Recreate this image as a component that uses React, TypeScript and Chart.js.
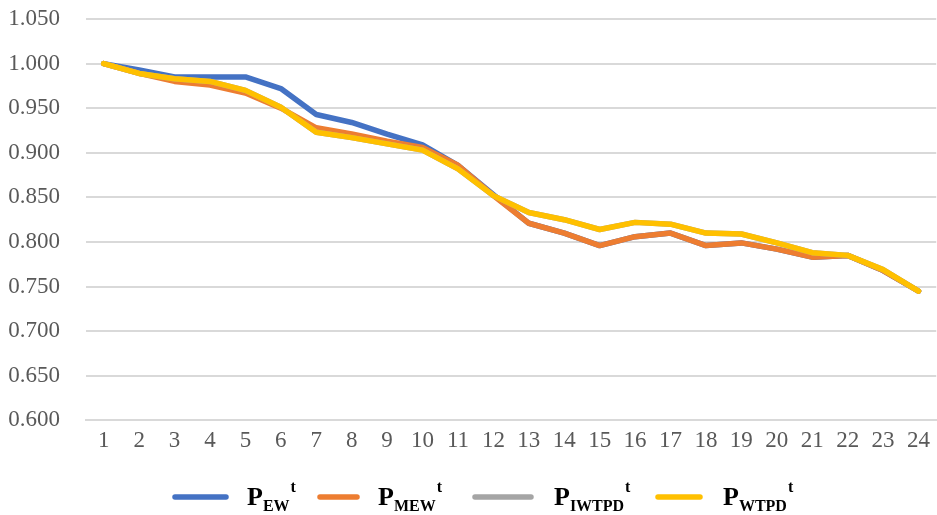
import React, { useEffect, useRef } from "react";
import { Chart, registerables } from "chart.js";

Chart.register(...registerables);

const categories = ["1","2","3","4","5","6","7","8","9","10","11","12","13","14","15","16","17","18","19","20","21","22","23","24"];

const pEW = [1.000,0.993,0.985,0.985,0.985,0.972,0.943,0.934,0.921,0.909,0.886,0.853,0.821,0.810,0.796,0.806,0.810,0.796,0.799,0.792,0.783,0.785,0.768,0.745];
const pMEW = [1.000,0.989,0.980,0.976,0.967,0.950,0.928,0.921,0.913,0.906,0.886,0.852,0.821,0.810,0.796,0.806,0.810,0.796,0.799,0.792,0.783,0.785,0.768,0.745];
const pIWTPD = [1.000,0.989,0.983,0.980,0.970,0.951,0.923,0.917,0.910,0.903,0.882,0.852,0.833,0.825,0.814,0.822,0.820,0.810,0.809,0.799,0.788,0.785,0.769,0.745];
const pWTPD = [1.000,0.989,0.983,0.980,0.970,0.951,0.923,0.917,0.910,0.903,0.882,0.852,0.833,0.825,0.814,0.822,0.820,0.810,0.809,0.799,0.788,0.785,0.769,0.745];

const yMin = 0.6;
const yMax = 1.05;
const yStep = 0.05;

const legendItems = [
  { main: "P", sub: "EW", sup: "t", color: "#4472C4", x0: 175, x1: 226, tx: 247 },
  { main: "P", sub: "MEW", sup: "t", color: "#ED7D31", x0: 320, x1: 357, tx: 378 },
  { main: "P", sub: "IWTPD", sup: "t", color: "#A5A5A5", x0: 475, x1: 531, tx: 554 },
  { main: "P", sub: "WTPD", sup: "t", color: "#FFC000", x0: 658, x1: 700, tx: 723 },
];

const legendPlugin = {
  id: "customLegend",
  afterDraw(chart: any) {
    const ctx = chart.ctx;
    ctx.save();
    const ly = 497;
    for (const it of legendItems) {
      ctx.strokeStyle = it.color;
      ctx.lineWidth = 5.5;
      ctx.lineCap = "round";
      ctx.beginPath();
      ctx.moveTo(it.x0, ly);
      ctx.lineTo(it.x1, ly);
      ctx.stroke();
      ctx.fillStyle = "#000000";
      ctx.textBaseline = "alphabetic";
      ctx.textAlign = "left";
      ctx.font = 'bold 26px "Liberation Serif", serif';
      ctx.fillText(it.main, it.tx, 505);
      const wMain = ctx.measureText(it.main).width;
      ctx.font = 'bold 16px "Liberation Serif", serif';
      ctx.fillText(it.sub, it.tx + wMain, 511);
      const wSub = ctx.measureText(it.sub).width;
      ctx.fillText(it.sup, it.tx + wMain + wSub + 1, 492);
    }
    ctx.restore();
  },
};

export default function App() {
  const ref = useRef<HTMLCanvasElement | null>(null);
  useEffect(() => {
    if (!ref.current) return;
    const mk = (label: string, data: number[], color: string) => ({
      label,
      data,
      borderColor: color,
      backgroundColor: color,
      borderWidth: 5.5,
      borderCapStyle: "round" as const,
      borderJoinStyle: "round" as const,
      pointRadius: 0,
      pointHoverRadius: 0,
      tension: 0,
      fill: false,
    });
    const chart = new Chart(ref.current, {
      type: "line",
      data: {
        labels: categories,
        datasets: [
          { ...mk("PEWt", pEW, "#4472C4"), order: 4 },
          { ...mk("PMEWt", pMEW, "#ED7D31"), order: 3 },
          { ...mk("PIWTPDt", pIWTPD, "#A5A5A5"), order: 2 },
          { ...mk("PWTPDt", pWTPD, "#FFC000"), order: 1 },
        ],
      },
      options: {
        animation: false,
        responsive: true,
        maintainAspectRatio: false,
        layout: { padding: { top: 19, right: 0, bottom: 53, left: 0 } },
        plugins: {
          legend: { display: false },
          tooltip: { enabled: false },
        },
        scales: {
          x: {
            offset: true,
            grid: { display: false, drawTicks: false },
            border: { display: true, color: "#D9D9D9", width: 2 },
            ticks: {
              color: "#595959",
              font: { family: '"Liberation Serif", serif', size: 23 },
              padding: 7,
              maxRotation: 0,
              autoSkip: false,
            },
          },
          y: {
            min: yMin,
            max: yMax,
            grid: { color: "#D9D9D9", lineWidth: 2, drawTicks: false },
            border: { display: false },
            ticks: {
              stepSize: yStep,
              color: "#595959",
              font: { family: '"Liberation Serif", serif', size: 23 },
              padding: 26,
              callback: (v: any) => Number(v).toFixed(3),
            },
            afterFit: (scale: any) => {
              scale.width = 86;
              scale.paddingTop = 0;
              scale.paddingBottom = 0;
            },
          },
        },
      },
      plugins: [legendPlugin],
    });
    return () => chart.destroy();
  }, []);
  return (
    <div style={{ position: "fixed", left: 0, top: 0, width: 937, height: 515, background: "#fff" }}>
      <canvas ref={ref} />
    </div>
  );
}
